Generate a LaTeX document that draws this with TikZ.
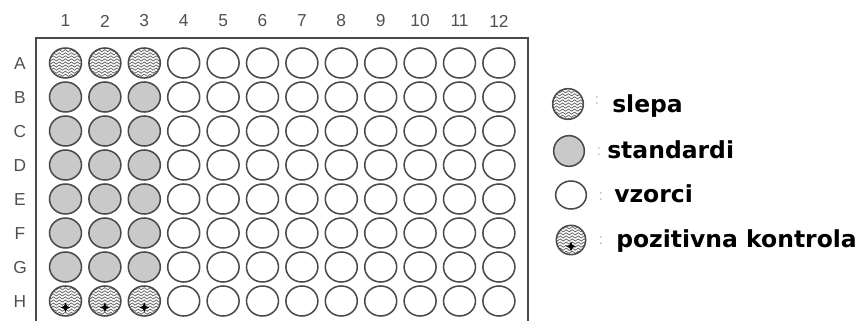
\documentclass[tikz,border=0pt]{standalone}
\usepackage{fontspec}
\setmainfont{Liberation Sans}
\newfontfamily\legfont{DejaVu Sans}
\usetikzlibrary{shapes.geometric,decorations.pathmorphing}
\definecolor{rim}{HTML}{4A4A4A}
\definecolor{stdfill}{HTML}{C9C9C9}
\definecolor{lbl}{HTML}{505050}
\definecolor{wave}{HTML}{6A6A6A}
\begin{document}
\begin{tikzpicture}[x=0.75pt,y=-0.75pt,
  well/.style={ellipse,draw=rim,line width=1.15pt,fill=white,minimum width=24pt,minimum height=22.5pt,inner sep=0pt},
  stdwell/.style={well,fill=stdfill},
  wavelines/.code={},
  blankwell/.style={well,path picture={
      \foreach \k in {-5,...,5}{
        \draw[wave,line width=0.6pt,decorate,decoration={snake,amplitude=0.8pt,segment length=4.5pt}]
          ([xshift=-3pt,yshift=\k*2.3pt]path picture bounding box.west) -- ([xshift=3pt,yshift=\k*2.3pt]path picture bounding box.east);
      }}},
  poswell/.style={well,path picture={
      \foreach \k in {-5,...,5}{
        \draw[wave,line width=0.6pt,decorate,decoration={snake,amplitude=0.8pt,segment length=4.5pt}]
          ([xshift=-3pt,yshift=\k*2.3pt]path picture bounding box.west) -- ([xshift=3pt,yshift=\k*2.3pt]path picture bounding box.east);
      }
      \fill[black] ([yshift=-4.8pt]path picture bounding box.center)
        +(0,3.6pt) -- +(1.1pt,1.1pt) -- +(3.6pt,0) -- +(1.1pt,-1.1pt) -- +(0,-3.6pt) -- +(-1.1pt,-1.1pt) -- +(-3.6pt,0) -- +(-1.1pt,1.1pt) -- cycle;
    }},
  axislbl/.style={font=\fontsize{13}{14}\selectfont,text=lbl,inner sep=0pt},
  colon/.style={font=\fontsize{11}{12}\selectfont,text=gray!60,inner sep=0pt},
  legtxt/.style={font=\legfont\bfseries\fontsize{17.6}{18}\selectfont,text=black,inner sep=0pt,anchor=base west}
]
\useasboundingbox (0,0) rectangle (857,321);
% plate frame
\draw[rim,line width=1.3pt] (36,322) -- (36,38) -- (528,38) -- (528,322);
% column numbers
\foreach \c in {1,...,12}{
  \node[axislbl] (col\c) at ({65.5+(\c-1)*39.4},21) {\c};
}
% row letters
\foreach \r/\L in {1/A,2/B,3/C,4/D,5/E,6/F,7/G,8/H}{
  \node[axislbl] (row\L) at (20,{64+(\r-1)*34}) {\L};
}
% wells
\foreach \r/\L in {1/A,2/B,3/C,4/D,5/E,6/F,7/G,8/H}{
  \foreach \c in {1,...,12}{
    \pgfmathtruncatemacro{\isleft}{\c<4 ? 1 : 0}
    \ifnum\isleft=1
      \ifnum\r=1
        \node[blankwell] (w\L\c) at ({65.5+(\c-1)*39.4},{63+(\r-1)*34}) {};
      \else\ifnum\r=8
        \node[poswell] (w\L\c) at ({65.5+(\c-1)*39.4},{63+(\r-1)*34}) {};
      \else
        \node[stdwell] (w\L\c) at ({65.5+(\c-1)*39.4},{63+(\r-1)*34}) {};
      \fi\fi
    \else
      \node[well] (w\L\c) at ({65.5+(\c-1)*39.4},{63+(\r-1)*34}) {};
    \fi
  }
}
% legend
\node[blankwell,minimum width=23pt,minimum height=23pt] (lg1) at (568,104) {};
\node[colon] (cl1) at (597,101) {:};
\node[legtxt] (t1) at (612,113) {slepa};
\node[stdwell,minimum width=23pt,minimum height=23pt] (lg2) at (569,151) {};
\node[colon] (cl2) at (599,152) {:};
\node[legtxt] (t2) at (607,158) {standardi};
\node[well,minimum width=23pt,minimum height=21pt] (lg3) at (571,195) {};
\node[colon] (cl3) at (601,197) {:};
\node[legtxt] (t3) at (614,202) {vzorci};
\node[poswell,minimum width=22pt,minimum height=22pt] (lg4) at (571,240) {};
\node[colon] (cl4) at (601,241) {:};
\node[legtxt] (t4) at (616,247) {pozitivna kontrola};
\end{tikzpicture}
\end{document}
